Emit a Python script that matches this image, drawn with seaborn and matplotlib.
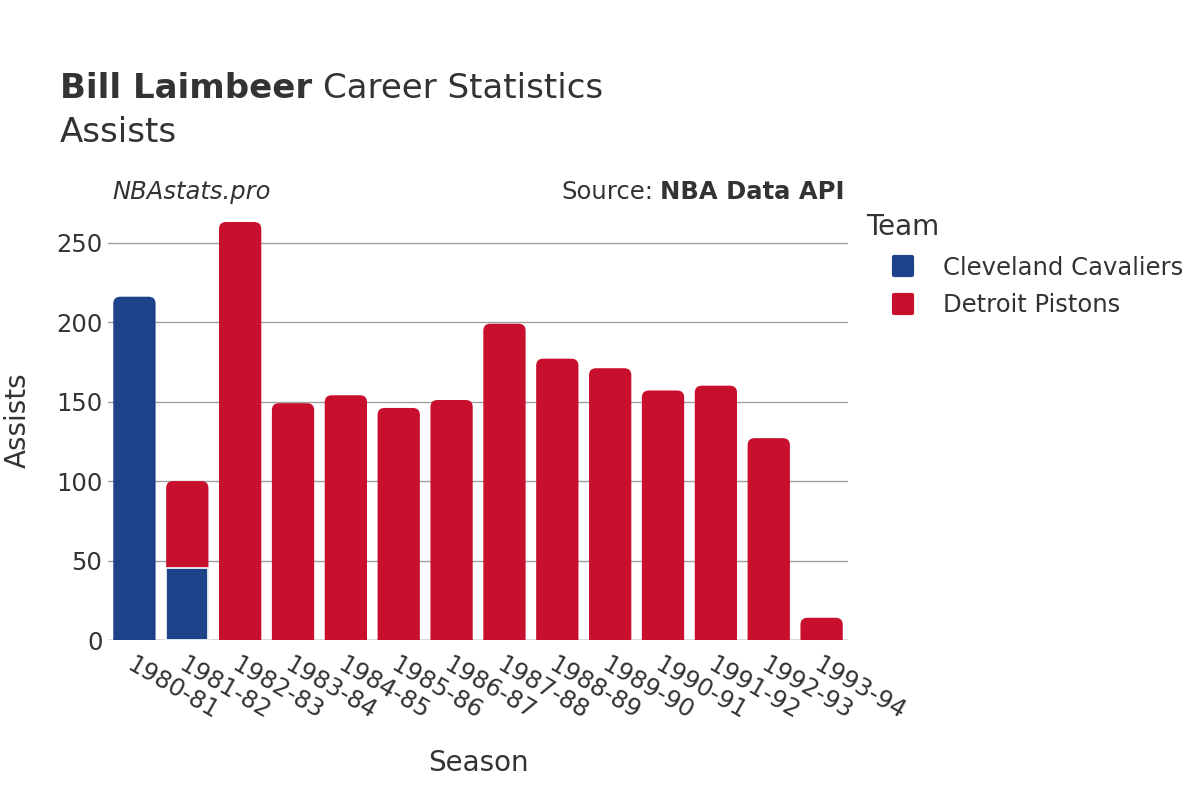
import pandas as pd
import matplotlib.pyplot as plt
import seaborn as sns
from matplotlib.patches import FancyBboxPatch
from matplotlib.lines import Line2D
from matplotlib.markers import MarkerStyle

# Data
seasons = ["1980-81", "1981-82", "1982-83", "1983-84", "1984-85", "1985-86", "1986-87",
           "1987-88", "1988-89", "1989-90", "1990-91", "1991-92", "1992-93", "1993-94"]
cavaliers = [216, 45, 0, 0, 0, 0, 0, 0, 0, 0, 0, 0, 0, 0]
pistons = [0, 55, 263, 149, 154, 146, 151, 199, 177, 171, 157, 160, 127, 14]
teams = ["Cleveland Cavaliers", "Detroit Pistons"]
team_colors = {"Cleveland Cavaliers": "#1d428a", "Detroit Pistons": "#c8102e"}

df = pd.DataFrame({"Season": seasons, "Cavaliers": cavaliers, "Pistons": pistons})
df["Total"] = df["Cavaliers"] + df["Pistons"]
df["Top"] = ["Detroit Pistons" if p > 0 else "Cleveland Cavaliers" for p in df["Pistons"]]
# lower segment where a season was split between teams
split = df[(df["Cavaliers"] > 0) & (df["Pistons"] > 0)]

sns.set_style("white")
plt.rcParams['font.family'] = ['DejaVu Sans']
text_col = "#333333"

fig = plt.figure(figsize=(12, 8), dpi=100)
ax = fig.add_axes([0.09, 0.2, 0.6167, 0.5225])

# full bars, coloured by the team on top
sns.barplot(data=df, x="Season", y="Total", hue="Top", palette=team_colors,
            order=seasons, hue_order=teams, dodge=False, width=0.8,
            legend=False, ax=ax, saturation=1)

# swap rectangles for bars with rounded tops
xpx = 740 / 14.0
ypx = 418 / 263.0
r = 7
old = [p for p in ax.patches if p.get_height() > 0]
for p in list(ax.patches):
    p.remove()
for p in old:
    x0, w, h = p.get_x(), p.get_width(), p.get_height()
    fb = FancyBboxPatch((x0, -r / ypx), w, h + r / ypx,
                        boxstyle=f"round,pad=0,rounding_size={r / xpx}",
                        mutation_aspect=xpx / ypx,
                        facecolor=p.get_facecolor(), edgecolor="none")
    ax.add_patch(fb)

# bottom segment for split season
split_pos = [seasons.index(s) for s in split["Season"]]
ax.bar(split_pos, split["Cavaliers"], width=0.8, color=team_colors["Cleveland Cavaliers"],
       edgecolor="white", linewidth=1.2)

ax.set_xlim(-0.5, len(seasons) - 0.5)
ax.set_ylim(0, 263)
ax.set_yticks([0, 50, 100, 150, 200, 250])
ax.yaxis.grid(True, color="#a0a0a0", linewidth=1)
ax.set_axisbelow(True)
for s in ax.spines.values():
    s.set_visible(False)
ax.axhline(0, color="#e6e6e6", linewidth=2, zorder=0.5)

ax.set_xticks(range(len(seasons)))
ax.set_xticklabels(seasons, rotation=-30, ha="left", rotation_mode="anchor",
                   fontsize=17.5, color=text_col)
ax.tick_params(axis="x", length=0, pad=9)
ax.tick_params(axis="y", length=0, pad=4, labelsize=17.5, labelcolor=text_col)
ax.set_xlabel("Season", fontsize=20, color=text_col, labelpad=18)
ax.set_ylabel("Assists", fontsize=20, color=text_col)
ax.yaxis.set_label_coords(-0.103, 0.526)

# titles
fig.canvas.draw()
rend = fig.canvas.get_renderer()
t1 = fig.text(0.05, 0.889, "Bill Laimbeer", fontsize=24.5, fontweight="bold",
              color=text_col, va="center")
bb = t1.get_window_extent(rend)
fig.text(bb.x1 / 1200 + 0.009, 0.889, "Career Statistics", fontsize=24.5,
         color=text_col, va="center")
fig.text(0.05, 0.835, "Assists", fontsize=24.5, color=text_col, va="center")
fig.text(0.094, 0.76, "NBAstats.pro", fontsize=17.5, style="italic", color=text_col, va="center")
t2 = fig.text(0.704, 0.76, "NBA Data API", fontsize=17.5, fontweight="bold", color=text_col,
              va="center", ha="right")
bb2 = t2.get_window_extent(rend)
fig.text(bb2.x0 / 1200 - 0.006, 0.76, "Source:", fontsize=17.5, color=text_col,
         va="center", ha="right")

# legend with rounded square swatches
fig.text(866 / 1200, 1 - 227 / 800, "Team", fontsize=20, color=text_col, va="center")
sq = MarkerStyle("s", joinstyle="round")
handles = [Line2D([0], [0], marker=sq, linestyle="none", markersize=13,
                  markerfacecolor=team_colors[t], markeredgecolor=team_colors[t],
                  markeredgewidth=3)
           for t in teams]
leg = fig.legend(handles, teams, loc="upper left",
                 bbox_to_anchor=(879 / 1200, 1 - 256 / 800), frameon=False, fontsize=17.5,
                 labelcolor=text_col, handletextpad=0.64, borderpad=0,
                 borderaxespad=0, labelspacing=0.55)

fig.savefig("out.png", dpi=100)
